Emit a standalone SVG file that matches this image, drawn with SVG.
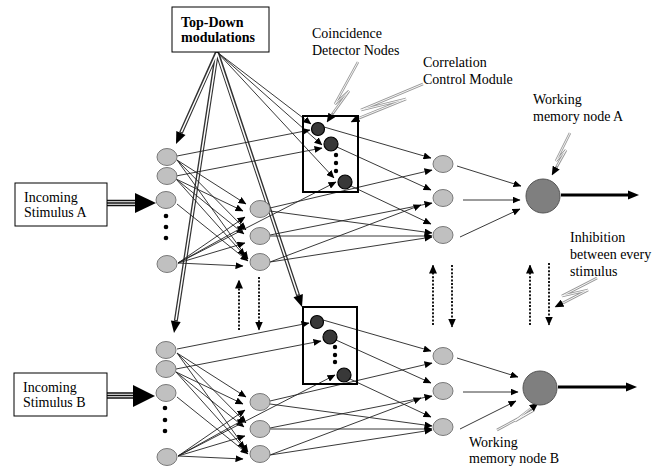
<svg xmlns="http://www.w3.org/2000/svg" width="662" height="467" viewBox="0 0 662 467">
<style>
.t{font-family:"Liberation Serif","Times New Roman",serif;font-size:14px;fill:#000}
.tb{font-family:"Liberation Serif","Times New Roman",serif;font-size:14px;font-weight:bold;fill:#000}
.box{fill:#fff;stroke:#000;stroke-width:1}
.cbox{fill:none;stroke:#000;stroke-width:2}
.n{fill:#c0c0c0;stroke:#7a7a7a;stroke-width:1}
.cd{fill:#383838;stroke:#000;stroke-width:1.2}
.wm{fill:#7f7f7f;stroke:#555;stroke-width:1}
.dot{fill:#000}
.c{stroke:#222;stroke-width:0.9;fill:none;marker-end:url(#ah)}
.dl{stroke:#333;stroke-width:4;fill:none}
.dli{stroke:#fff;stroke-width:1.5;fill:none}
.dt{stroke:#000;stroke-width:1.8;stroke-dasharray:2 1.6;fill:none;marker-end:url(#ah2)}
.th{stroke:#000;stroke-width:3;fill:none}
.co{stroke:#999;stroke-width:2.6;fill:none;stroke-linejoin:miter}
.coi{stroke:#fff;stroke-width:0.9;fill:none}
.cm{stroke:none;fill:none;marker-end:url(#ah2)}
</style>
<defs>
<marker id="ah" markerUnits="userSpaceOnUse" markerWidth="8" markerHeight="7" refX="7.5" refY="3.5" orient="auto"><path d="M0,0 L8,3.5 L0,7 z" fill="#000"/></marker>
<marker id="ah2" markerUnits="userSpaceOnUse" markerWidth="9" markerHeight="8" refX="8.5" refY="4" orient="auto"><path d="M0,0 L9,4 L0,8 z" fill="#000"/></marker>
</defs>
<rect width="662" height="467" fill="#fff"/>

<g id="connectors">
  <path class="dl" d="M217,52 L180.9,133 M217,52 L175.8,321.1 M217,52 L298.2,295.6"/>
  <path class="dli" d="M217,53 L181.4,132 M217,53 L176,320 M217,53 L297.8,294.5"/>
  <polygon points="176,144 185.5,135 176.3,131" fill="#000"/>
  <polygon points="174,333 180.7,321.9 170.9,320.4" fill="#000"/>
  <polygon points="302,307 302.9,294 293.5,297.2" fill="#000"/>
  <path class="c" d="M217,52 L311,124"/>
  <path class="c" d="M217,52 L322,145"/>
  <path class="c" d="M217,52 L334,178"/>

  <path d="M107,200.5 H136 M107,203 H136 M107,205.5 H136" stroke="#111" stroke-width="1.3"/>
  <polygon points="135,193 156,203 135,213" fill="#000"/>
  <path class="c" d="M177,156 L310,130"/>
  <path class="c" d="M176,176 L322,148"/>
  <path class="c" d="M177,160 L246,204"/>
  <path class="c" d="M177,160 L246,230"/>
  <path class="c" d="M177,160 L248,259"/>
  <path class="c" d="M176,179 L243,211"/>
  <path class="c" d="M176,179 L244,234"/>
  <path class="c" d="M176,179 L245,256"/>
  <path class="c" d="M177,204 L248,261"/>
  <path class="c" d="M178,263 L245,217"/>
  <path class="c" d="M178,263 L245,226"/>
  <path class="c" d="M178,263 L245,243"/>
  <path class="c" d="M178,263 L243,266"/>
  <path class="c" d="M178,263 L336,182"/>
  <path class="c" d="M270,208 L432,170"/>
  <path class="c" d="M270,211 L432,233"/>
  <path class="c" d="M270,235 L432,203"/>
  <path class="c" d="M270,236 L432,236"/>
  <path class="c" d="M270,262 L421,205"/>
  <path class="c" d="M270,262 L432,237"/>
  <path class="c" d="M324,127 L431,158"/>
  <path class="c" d="M337,147 L431,190"/>
  <path class="c" d="M351,186 L431,224"/>
  <path class="c" d="M457,166 L521,186"/>
  <path class="c" d="M463,200 L520,200"/>
  <path class="c" d="M460,237 L520,209"/>
  <path class="th" d="M561,195 H629"/>
  <polygon points="628,190.5 639,195 628,199.5" fill="#000"/>

  <path d="M107,393 H134 M107,395.5 H134 M107,398 H134" stroke="#111" stroke-width="1.3"/>
  <polygon points="133,385 155,396 133,407" fill="#000"/>
  <path class="c" d="M177,349 L309,323"/>
  <path class="c" d="M176,369 L321,341"/>
  <path class="c" d="M177,353 L246,397"/>
  <path class="c" d="M177,353 L246,423"/>
  <path class="c" d="M177,353 L248,452"/>
  <path class="c" d="M176,372 L243,404"/>
  <path class="c" d="M176,372 L244,427"/>
  <path class="c" d="M176,372 L245,449"/>
  <path class="c" d="M177,397 L248,454"/>
  <path class="c" d="M178,456 L245,410"/>
  <path class="c" d="M178,456 L245,419"/>
  <path class="c" d="M178,456 L245,436"/>
  <path class="c" d="M178,456 L243,459"/>
  <path class="c" d="M178,456 L335,375"/>
  <path class="c" d="M270,401 L432,363"/>
  <path class="c" d="M270,404 L432,426"/>
  <path class="c" d="M270,428 L432,396"/>
  <path class="c" d="M270,429 L432,429"/>
  <path class="c" d="M270,455 L421,398"/>
  <path class="c" d="M270,455 L432,430"/>
  <path class="c" d="M323,320 L431,351"/>
  <path class="c" d="M336,340 L431,383"/>
  <path class="c" d="M350,379 L431,417"/>
  <path class="c" d="M457,358 L518,377"/>
  <path class="c" d="M463,392 L518,392"/>
  <path class="c" d="M460,429 L516,401"/>
  <path class="th" d="M558,387 H627"/>
  <polygon points="626,382.5 637,387 626,391.5" fill="#000"/>

  <path class="dt" d="M239,330 V280"/>
  <path class="dt" d="M259,277 V330"/>
  <path class="dt" d="M433,325 V265"/>
  <path class="dt" d="M452,265 V327"/>
  <path class="dt" d="M530,325 V265"/>
  <path class="dt" d="M549,263 V325"/>

  <path class="co" d="M358,62 L335,104 L349,91 L331,116"/>
  <path class="coi" d="M358,62 L335,104 L349,91 L333,113"/>
  <path class="cm" d="M331,116 L327,122"/>
  <path class="co" d="M423,84 L361,110 L406,99 L357,119"/>
  <path class="coi" d="M423,84 L361,110 L406,99 L359,118"/>
  <path class="cm" d="M357,119 L351,122"/>
  <path class="co" d="M570,133 L556,161 L566,150 L556,168"/>
  <path class="coi" d="M570,133 L556,161 L566,150 L557,166"/>
  <path class="cm" d="M556,168 L552,175"/>
  <path class="co" d="M597,278 L562,296 L588,290 L561,304"/>
  <path class="coi" d="M597,278 L562,296 L588,290 L563,303"/>
  <path class="cm" d="M561,304 L555,307"/>
  <path class="co" d="M497,430 L534,410 L515,421 L533,407"/>
  <path class="coi" d="M497,430 L534,410 L515,421 L531,408"/>
  <path class="cm" d="M533,407 L538,403"/>
</g>

<g id="top-down">
  <rect class="box" x="172" y="7" width="97" height="45"/>
  <text class="tb" x="181" y="27">Top-Down</text>
  <text class="tb" x="181" y="42">modulations</text>
</g>
<g id="stimulus-a">
  <rect class="box" x="15" y="183" width="92" height="43"/>
  <text class="t" x="24" y="202">Incoming</text>
  <text class="t" x="24" y="217">Stimulus A</text>
</g>
<g id="stimulus-b">
  <rect class="box" x="14" y="373" width="93" height="43"/>
  <text class="t" x="23" y="392">Incoming</text>
  <text class="t" x="23" y="407">Stimulus B</text>
</g>

<g id="input-a">
  <ellipse class="n" cx="167" cy="157" rx="10" ry="8.5"/>
  <ellipse class="n" cx="167" cy="176" rx="10" ry="8.5"/>
  <ellipse class="n" cx="166" cy="200" rx="10" ry="8.5"/>
  <circle class="dot" cx="166" cy="216" r="2.3"/>
  <circle class="dot" cx="166" cy="227" r="2.3"/>
  <circle class="dot" cx="166" cy="238" r="2.3"/>
  <ellipse class="n" cx="167" cy="264" rx="10" ry="8.5"/>
</g>
<g id="hidden-a">
  <ellipse class="n" cx="260" cy="209" rx="10" ry="8.5"/>
  <ellipse class="n" cx="260" cy="236" rx="10" ry="8.5"/>
  <ellipse class="n" cx="260" cy="262" rx="10" ry="8.5"/>
</g>
<g id="correlation-a">
  <rect class="cbox" x="303" y="116" width="55" height="76"/>
  <circle class="cd" cx="318" cy="129" r="6.5"/>
  <circle class="cd" cx="331" cy="144" r="7"/>
  <circle class="dot" cx="336" cy="155" r="2.2"/>
  <circle class="dot" cx="336" cy="163" r="2.2"/>
  <circle class="dot" cx="336" cy="171" r="2.2"/>
  <circle class="cd" cx="345" cy="182" r="7"/>
</g>
<g id="output-layer-a">
  <ellipse class="n" cx="443" cy="164" rx="10" ry="8.5"/>
  <ellipse class="n" cx="443" cy="198" rx="10" ry="8.5"/>
  <ellipse class="n" cx="443" cy="235" rx="10" ry="8.5"/>
</g>
<g id="wm-a">
  <circle class="wm" cx="543" cy="196" r="17"/>
</g>

<g id="input-b">
  <ellipse class="n" cx="166" cy="350" rx="10" ry="8.5"/>
  <ellipse class="n" cx="166" cy="369" rx="10" ry="8.5"/>
  <ellipse class="n" cx="166" cy="393" rx="10" ry="8.5"/>
  <circle class="dot" cx="165" cy="408" r="2.3"/>
  <circle class="dot" cx="165" cy="420" r="2.3"/>
  <circle class="dot" cx="165" cy="431" r="2.3"/>
  <ellipse class="n" cx="167" cy="457" rx="10" ry="8.5"/>
</g>
<g id="hidden-b">
  <ellipse class="n" cx="260" cy="402" rx="10" ry="8.5"/>
  <ellipse class="n" cx="260" cy="429" rx="10" ry="8.5"/>
  <ellipse class="n" cx="260" cy="454" rx="10" ry="8.5"/>
</g>
<g id="correlation-b">
  <rect class="cbox" x="303" y="307" width="54" height="77"/>
  <circle class="cd" cx="317" cy="322" r="6.5"/>
  <circle class="cd" cx="330" cy="337" r="7"/>
  <circle class="dot" cx="335" cy="347" r="2.2"/>
  <circle class="dot" cx="335" cy="355" r="2.2"/>
  <circle class="dot" cx="335" cy="362" r="2.2"/>
  <circle class="cd" cx="344" cy="375" r="7"/>
</g>
<g id="output-layer-b">
  <ellipse class="n" cx="443" cy="356" rx="10" ry="8.5"/>
  <ellipse class="n" cx="443" cy="391" rx="10" ry="8.5"/>
  <ellipse class="n" cx="443" cy="427" rx="10" ry="8.5"/>
</g>
<g id="wm-b">
  <circle class="wm" cx="540" cy="388" r="17"/>
</g>

<g id="labels">
  <text class="t" x="312" y="38">Coincidence</text>
  <text class="t" x="312" y="55">Detector Nodes</text>
  <text class="t" x="423" y="67">Correlation</text>
  <text class="t" x="423" y="84">Control Module</text>
  <text class="t" x="533" y="104">Working</text>
  <text class="t" x="533" y="121">memory node A</text>
  <text class="t" x="570" y="242">Inhibition</text>
  <text class="t" x="570" y="259">between every</text>
  <text class="t" x="570" y="276">stimulus</text>
  <text class="t" x="469" y="447">Working</text>
  <text class="t" x="469" y="463">memory node B</text>
</g>
</svg>
